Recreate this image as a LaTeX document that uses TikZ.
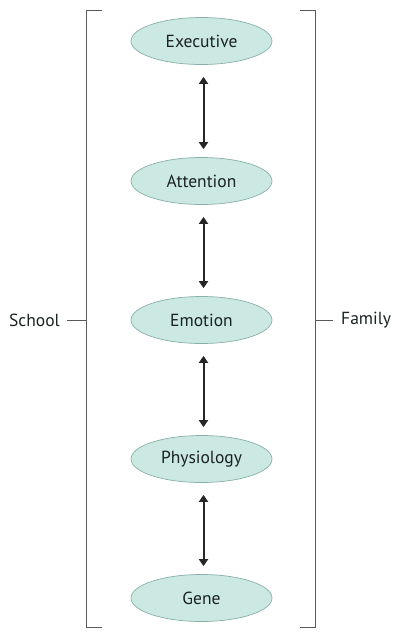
\documentclass[tikz,border=0pt]{standalone}
\usepackage{fontspec}
\setmainfont{PT Sans}
\usetikzlibrary{shapes.geometric,arrows.meta}
\definecolor{ovalfill}{HTML}{CBE8E2}
\definecolor{ovaldraw}{HTML}{88B0AA}
\definecolor{txt}{HTML}{1A2222}
\definecolor{brk}{HTML}{5A5A5A}
\tikzset{
  oval/.style={ellipse, draw=ovaldraw, line width=0.7pt, fill=ovalfill, minimum width=141pt, minimum height=47pt, inner sep=0pt, text=txt, font=\fontsize{17.5}{20}\selectfont},
  link/.style={line width=2pt, draw=black!85, {Triangle[width=9pt,length=7pt]}-{Triangle[width=9pt,length=7pt]}, shorten <=12pt, shorten >=8pt},
  bracket/.style={draw=brk, line width=0.9pt},
  side/.style={text=txt, font=\fontsize{17.5}{20}\selectfont, inner sep=0pt}
}
\begin{document}
\begin{tikzpicture}[x=1pt,y=-1pt]
\useasboundingbox (0,0) rectangle (400,638);
\node[oval] (exe) at (201.5,41) {Executive};
\node[oval] (att) at (201.5,181) {Attention};
\node[oval] (emo) at (201.5,320) {Emotion};
\node[oval] (phy) at (201.5,459) {Physiology};
\node[oval] (gen) at (201.5,598) {Gene};
\foreach \a/\b in {exe/att,att/emo,emo/phy,phy/gen}{
  \draw[link] ([xshift=2pt]\a.south) -- ([xshift=2pt]\b.north);
}
\coordinate (lt) at (102,10);
\coordinate (lb) at (102,627);
\coordinate (rt) at (300,10);
\coordinate (rb) at (300,627);
\draw[bracket] (lt) -- (86,10) -- (86,627) -- (lb);
\draw[bracket] (rt) -- (315.5,10) -- (315.5,627) -- (rb);
\node[side, anchor=east] (school) at (60,320) {School};
\node[side, anchor=west] (family) at (341,320) {Family};
\coordinate (lm) at (86,320);
\coordinate (rm) at (315.5,320);
\draw[bracket] ([xshift=7pt]school.east) -- (lm);
\draw[bracket] (rm) -- ([xshift=-8pt]family.west);
\end{tikzpicture}
\end{document}
